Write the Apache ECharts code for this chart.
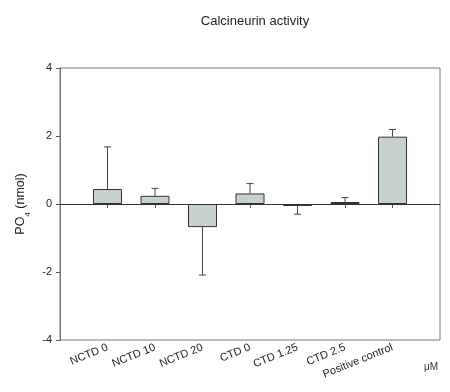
<!DOCTYPE html>
<html><head><meta charset="utf-8">
<script src="https://cdn.jsdelivr.net/npm/echarts@6/dist/echarts.min.js"></script>
<style>html,body{margin:0;padding:0;background:#fff}#c{width:450px;height:392px}</style>
</head><body><div id="c"></div>
<script>
const categories = ['NCTD 0','NCTD 10','NCTD 20','CTD 0','CTD 1.25','CTD 2.5','Positive control'];
const values = [0.44, 0.24, -0.68, 0.31, -0.03, 0.02, 1.98];
const errors = [1.24, 0.22, 1.41, 0.29, 0.27, 0.17, 0.21];
const yTicks = [-4, -2, 0, 2, 4];

const axisCats = [''].concat(categories, ['']);
const barData = values.map((v, i) => [i + 1, v]);
const errData = values.map((v, i) => [i + 1, v, v >= 0 ? v + errors[i] : v - errors[i]]);

const chart = echarts.init(document.getElementById('c'));
const font = 'Liberation Sans, Arial, sans-serif';
chart.setOption({
  animation: false,
  title: { text: 'Calcineurin activity', left: 250, top: 10, textAlign: 'center',
    textStyle: { fontFamily: font, fontSize: 13, fontWeight: 'normal', color: '#222' } },
  grid: { left: 60, right: 10, top: 68, bottom: 52, show: true, borderColor: '#777', borderWidth: 1 },
  xAxis: {
    type: 'category', data: axisCats, boundaryGap: false,
    axisLine: { lineStyle: { color: '#777' } },
    axisTick: { length: 4, interval: (i) => i > 0 && i < axisCats.length - 1, lineStyle: { color: '#555' } },
    axisLabel: { rotate: 22, interval: 0, margin: 7, fontFamily: font, fontSize: 11, color: '#222' }
  },
  yAxis: {
    type: 'value', min: -4, max: 4, interval: 2,
    name: '{a|PO}{s|4}{a| (nmol)}', nameLocation: 'middle', nameGap: 32, nameRotate: 90,
    nameTextStyle: { rich: { a: { fontFamily: font, fontSize: 12.5, color: '#222' },
      s: { fontFamily: font, fontSize: 8, color: '#222', verticalAlign: 'bottom', padding: [0,0,-4,0] } } },
    splitLine: { show: false },
    axisLine: { show: true, lineStyle: { color: '#777' } },
    axisTick: { show: true, length: 4, lineStyle: { color: '#555' } },
    axisLabel: { margin: 8, fontFamily: font, fontSize: 11, color: '#222' }
  },
  series: [
    { type: 'bar', data: barData, barWidth: 29, barMinHeight: 2,
      itemStyle: { color: '#c8cfcf', borderColor: '#333', borderWidth: 1 },
      markLine: { silent: true, symbol: 'none', label: { show: false },
        lineStyle: { color: '#333', width: 1, type: 'solid' }, data: [{ yAxis: 0 }] } },
    { type: 'custom', data: errData, z: 3,
      renderItem: (params, api) => {
        const x = api.value(0);
        const p0 = api.coord([x, api.value(1)]);
        const p1 = api.coord([x, api.value(2)]);
        const style = { stroke: '#444', lineWidth: 1 };
        return { type: 'group', children: [
          { type: 'line', shape: { x1: p0[0], y1: p0[1], x2: p1[0], y2: p1[1] }, style },
          { type: 'line', shape: { x1: p1[0] - 3.5, y1: p1[1], x2: p1[0] + 3.5, y2: p1[1] }, style }
        ] };
      } }
  ],
  graphic: [{ type: 'text', left: 424, top: 362, style: { text: 'μM', font: '10px ' + font, fill: '#333' } }]
});
</script></body></html>
